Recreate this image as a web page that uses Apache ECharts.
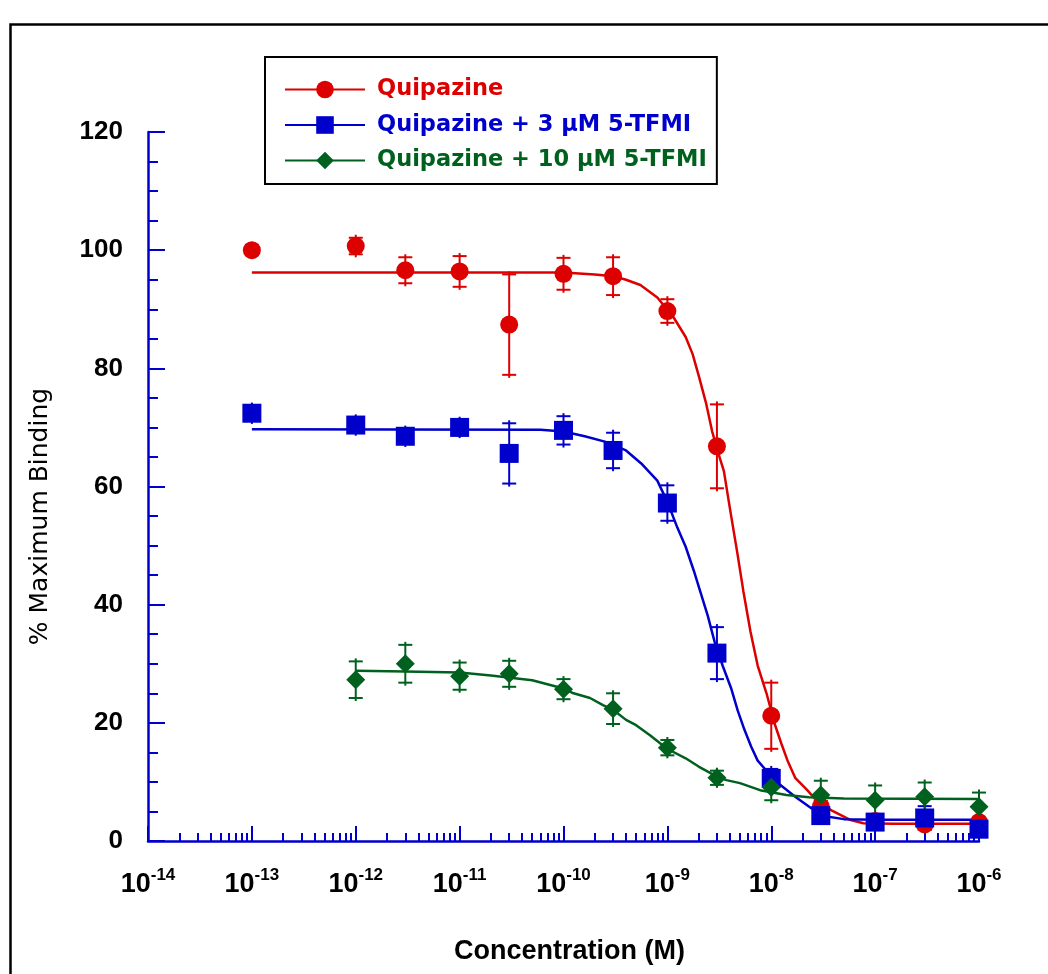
<!DOCTYPE html>
<html><head><meta charset="utf-8">
<script src="https://cdn.jsdelivr.net/npm/echarts@6/dist/echarts.min.js"></script>
<style>html,body{margin:0;padding:0;background:#fff}#c{width:1048px;height:974px}</style>
</head><body><div id="c"></div>
<script>
// ---- data ----
const seriesNames = ['Quipazine', 'Quipazine + 3 \u00B5M 5-TFMI', 'Quipazine + 10 \u00B5M 5-TFMI'];
const colors = ['#dd0000', '#0000cc', '#00601e'];

const quipConc = [1e-13, 1e-12, 3e-12, 1e-11, 3e-11, 1e-10, 3e-10, 1e-9, 3e-9, 1e-8, 3e-8, 1e-7, 3e-7, 1e-6];
const quipMean = [100.0, 100.7, 96.6, 96.4, 87.4, 96.0, 95.6, 89.7, 66.8, 21.2, 5.8, 3.4, 2.8, 3.2];
const quipErr  = [0.8, 1.4, 2.2, 2.6, 8.5, 2.7, 3.2, 2.0, 7.1, 5.6, 1.0, 0.6, 0.6, 0.6];

const tfmi3Conc = [1e-13, 1e-12, 3e-12, 1e-11, 3e-11, 1e-10, 3e-10, 1e-9, 3e-9, 1e-8, 3e-8, 1e-7, 3e-7, 1e-6];
const tfmi3Mean = [72.4, 70.4, 68.5, 70.0, 65.6, 69.5, 66.1, 57.2, 31.8, 10.6, 4.3, 3.2, 3.9, 2.0];
const tfmi3Err  = [1.3, 1.3, 1.3, 1.3, 5.1, 2.4, 3.0, 3.0, 4.4, 1.6, 1.0, 0.8, 2.0, 0.8];

const tfmi10Conc = [1e-12, 3e-12, 1e-11, 3e-11, 1e-10, 3e-10, 1e-9, 3e-9, 1e-8, 3e-8, 1e-7, 3e-7, 1e-6];
const tfmi10Mean = [27.3, 30.0, 27.9, 28.3, 25.7, 22.4, 15.8, 10.7, 9.1, 7.8, 6.9, 7.5, 5.8];
const tfmi10Err  = [3.1, 3.2, 2.3, 2.2, 1.7, 2.6, 1.3, 1.2, 2.2, 2.4, 2.5, 2.4, 2.4];

// fitted curves
const quipFitX = [1e-13, 1e-10, 2e-10, 3e-10, 4e-10, 5.5e-10, 8e-10, 1.15e-9, 1.5e-9, 1.75e-9, 2e-9, 2.35e-9, 2.7e-9, 3.15e-9, 3.5e-9, 4e-9, 4.7e-9, 5.4e-9, 6.3e-9, 7.4e-9, 9e-9, 1.08e-8, 1.25e-8, 1.45e-8, 1.7e-8, 2.2e-8, 2.8e-8, 3.8e-8, 5.7e-8, 7.7e-8, 1.5e-7, 1e-6];
const quipFitY = [96.2, 96.2, 95.9, 95.6, 95.0, 94.1, 92.0, 88.6, 85.3, 82.4, 78.8, 74.2, 69.3, 65.2, 62.6, 56.3, 48.9, 42.2, 35.5, 29.7, 25.0, 19.8, 16.5, 13.4, 10.7, 8.7, 6.6, 5.2, 3.6, 3.0, 2.9, 2.9];

const tfmi3FitX = [1e-13, 6e-11, 1e-10, 1.6e-10, 2.5e-10, 4e-10, 5.6e-10, 8e-10, 1e-9, 1.25e-9, 1.5e-9, 1.8e-9, 2.1e-9, 2.45e-9, 2.85e-9, 3.4e-9, 4.1e-9, 4.75e-9, 5.5e-9, 6.4e-9, 7.4e-9, 9.3e-9, 1.16e-8, 1.7e-8, 2.45e-8, 3.3e-8, 5e-8, 1e-7, 1e-6];
const tfmi3FitY = [69.7, 69.6, 69.3, 68.5, 67.6, 66.1, 63.9, 61.0, 57.4, 53.0, 49.8, 45.7, 41.9, 38.1, 33.7, 29.7, 25.9, 22.1, 18.9, 16.0, 13.6, 11.6, 9.8, 7.5, 5.5, 4.2, 3.7, 3.6, 3.6];

const tfmi10FitX = [1e-12, 3e-12, 1e-11, 2e-11, 5e-11, 1e-10, 1.25e-10, 1.8e-10, 2.4e-10, 3e-10, 4e-10, 5e-10, 6.8e-10, 9e-10, 1.05e-9, 1.5e-9, 2e-9, 3e-9, 3.7e-9, 5e-9, 7.8e-9, 1.4e-8, 2.3e-8, 5e-8, 1e-6];
const tfmi10FitY = [28.8, 28.7, 28.5, 28.0, 27.2, 25.8, 25.0, 24.2, 23.0, 22.2, 20.5, 19.6, 17.9, 16.2, 15.4, 14.0, 12.6, 10.9, 10.3, 9.8, 8.6, 7.8, 7.4, 7.2, 7.1];

const symbols = ['circle', 'rect', 'diamond'];
const symbolSizes = [18, 19, 19];

// ---- chart ----
const zip = (a, b) => a.map((v, i) => [v, b[i]]);
const groups = [
  {mean: zip(quipConc, quipMean), err: quipConc.map((x, i) => [x, quipMean[i], quipErr[i]]), fit: zip(quipFitX, quipFitY)},
  {mean: zip(tfmi3Conc, tfmi3Mean), err: tfmi3Conc.map((x, i) => [x, tfmi3Mean[i], tfmi3Err[i]]), fit: zip(tfmi3FitX, tfmi3FitY)},
  {mean: zip(tfmi10Conc, tfmi10Mean), err: tfmi10Conc.map((x, i) => [x, tfmi10Mean[i], tfmi10Err[i]]), fit: zip(tfmi10FitX, tfmi10FitY)}
];

const series = [];
groups.forEach((g, i) => {
  series.push({
    type: 'line', name: seriesNames[i], data: g.fit, showSymbol: false,
    symbol: symbols[i], symbolSize: 16, smooth: false,
    lineStyle: {color: colors[i], width: 2.5}, itemStyle: {color: colors[i]},
    z: 2, silent: true
  });
});
groups.forEach((g, i) => {
  const c = colors[i];
  series.push({
    type: 'custom', name: seriesNames[i], data: g.err, z: 3, silent: true,
    encode: {x: 0, y: 1},
    renderItem: (params, api) => {
      const x = api.value(0), y = api.value(1), e = api.value(2);
      const lo = api.coord([x, y - e]), hi = api.coord([x, y + e]);
      const hw = 7, ext = 3;
      const st = {stroke: c, lineWidth: 2};
      return {type: 'group', children: [
        {type: 'line', shape: {x1: lo[0], y1: lo[1] + ext, x2: hi[0], y2: hi[1] - ext}, style: st},
        {type: 'line', shape: {x1: lo[0] - hw, y1: lo[1], x2: lo[0] + hw, y2: lo[1]}, style: st},
        {type: 'line', shape: {x1: hi[0] - hw, y1: hi[1], x2: hi[0] + hw, y2: hi[1]}, style: st}
      ]};
    }
  });
  series.push({
    type: 'scatter', name: seriesNames[i], data: g.mean, symbol: symbols[i],
    symbolSize: symbolSizes[i], itemStyle: {color: c, opacity: 1}, z: 4, silent: true
  });
});

const axisBlue = '#0000cc';
const font = "'Liberation Sans', Arial, sans-serif";

const option = {
  animation: false,
  backgroundColor: '#ffffff',
  grid: {left: 148, right: 69, top: 132, bottom: 133, containLabel: false},
  legend: {
    orient: 'vertical', left: 265, top: 57,
    padding: [21, 10, 12, 19], itemWidth: 80, itemHeight: 22, itemGap: 12.5,
    borderColor: '#000', borderWidth: 2, backgroundColor: '#fff',
    textStyle: {fontFamily: "'DejaVu Sans', sans-serif", fontSize: 22.5, fontWeight: 'bold', lineHeight: 22, padding: [0, 0, 0, 7]},
    data: seriesNames.map((n, i) => ({name: n, textStyle: {color: colors[i]}})),
    selectedMode: false
  },
  xAxis: {
    type: 'log', logBase: 10, min: 1e-14, max: 1e-6, interval: 1,
    name: 'Concentration (M)', nameLocation: 'middle', nameGap: 97,
    nameTextStyle: {fontFamily: font, fontSize: 27, fontWeight: 'bold', color: '#000', padding: [0, 0, 0, 12]},
    axisLine: {show: true, onZero: false, lineStyle: {color: axisBlue, width: 2.5}},
    axisTick: {show: true, inside: true, length: 15, lineStyle: {color: axisBlue, width: 2}},
    minorTick: {show: true, splitNumber: 9, length: 8, lineStyle: {color: axisBlue, width: 2}},
    splitLine: {show: false}, minorSplitLine: {show: false},
    axisLabel: {
      margin: 26, showMinLabel: true, showMaxLabel: true,
      formatter: v => '{b|10}{s|' + Math.round(Math.log10(v)) + '}',
      rich: {
        b: {fontFamily: font, fontSize: 27, fontWeight: 'bold', color: '#000', lineHeight: 27, padding: [8, 0, 0, 0]},
        s: {fontFamily: font, fontSize: 17, fontWeight: 'bold', color: '#000', lineHeight: 17, verticalAlign: 'top'}
      }
    }
  },
  yAxis: {
    type: 'value', min: 0, max: 120, interval: 20,
    name: '% Maximum Binding', nameLocation: 'middle', nameGap: 95, nameRotate: 90,
    nameTextStyle: {fontFamily: "'DejaVu Sans', sans-serif", fontSize: 25, color: '#000', padding: [0, 60, 0, 0]},
    axisLine: {show: true, lineStyle: {color: axisBlue, width: 2.5}},
    axisTick: {show: true, inside: true, length: 17, lineStyle: {color: axisBlue, width: 2}},
    minorTick: {show: true, splitNumber: 4, length: 10, lineStyle: {color: axisBlue, width: 2}},
    splitLine: {show: false},
    axisLabel: {margin: 25, fontFamily: font, fontSize: 26, fontWeight: 'bold', color: '#000'}
  },
  graphic: [{
    type: 'rect', left: 8, top: 22, silent: true, z: -10,
    shape: {x: 0, y: 0, width: 1100, height: 1000},
    style: {fill: 'none', stroke: '#000', lineWidth: 2.5}
  }],
  series: series
};

const chart = echarts.init(document.getElementById('c'), null, {renderer: 'canvas'});
chart.setOption(option);
</script>
</body></html>
